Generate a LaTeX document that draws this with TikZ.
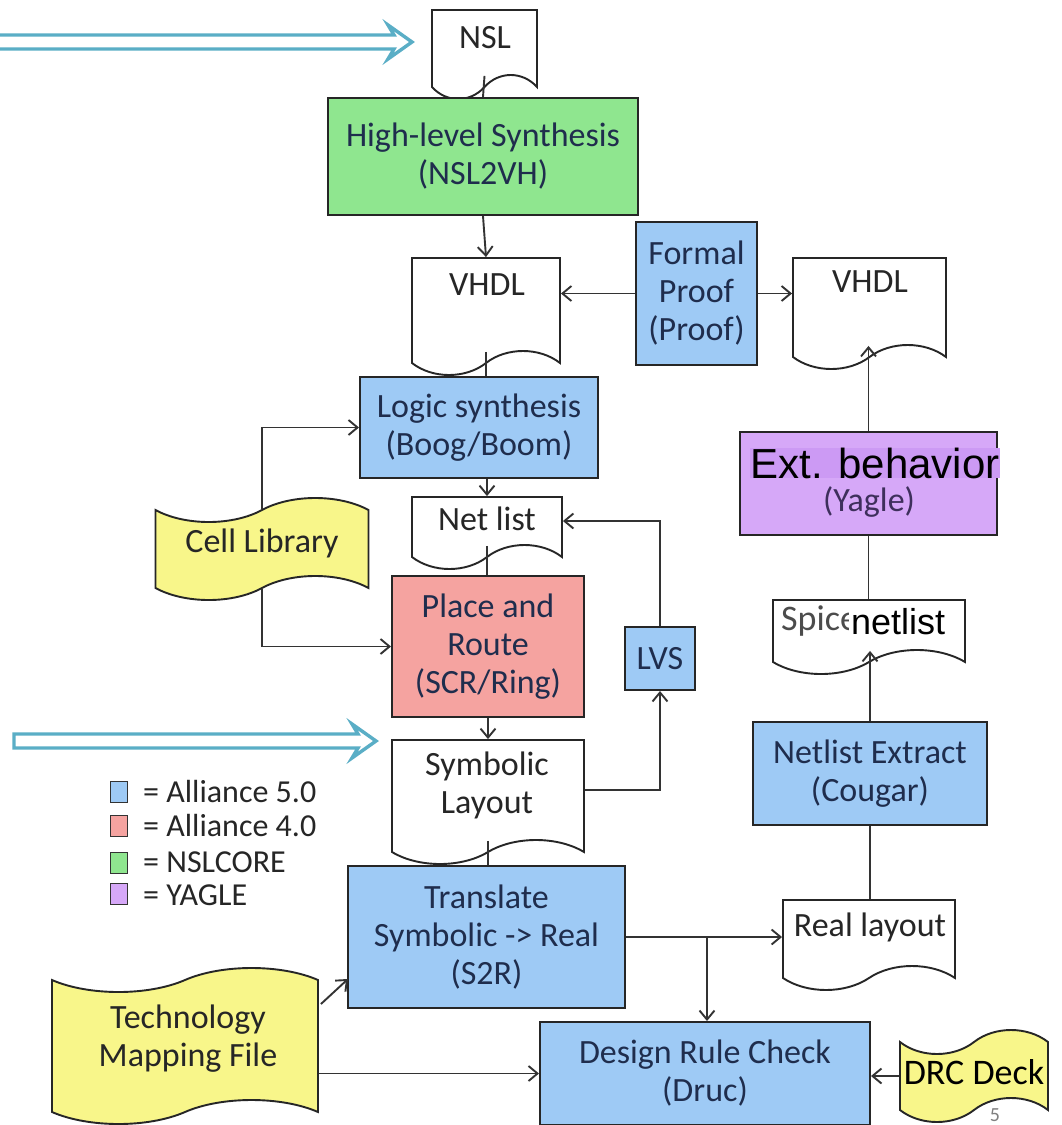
\documentclass[tikz,border=0pt]{standalone}
\usepackage{fontspec}
\setmainfont{Carlito}
\newfontfamily\arialfont{Liberation Sans}
\usetikzlibrary{shapes.symbols,arrows.meta,calc}
\definecolor{cblue}{HTML}{9ECAF5}
\definecolor{cgreen}{HTML}{8FE68F}
\definecolor{cred}{HTML}{F5A3A0}
\definecolor{cpurple}{HTML}{D6A8F8}
\definecolor{cpurpleD}{HTML}{CC9AF4}
\definecolor{cyellow}{HTML}{F8F68A}
\definecolor{cteal}{HTML}{5AAEC6}
\definecolor{txtnavy}{HTML}{1F2D4D}
\definecolor{txtdoc}{HTML}{262626}
\definecolor{txtyagle}{HTML}{3E2F5C}
\newcommand\bxf{\fontsize{34}{38}\selectfont}
\begin{document}
\begin{tikzpicture}[x=1pt,y=-1pt,
  box/.style={draw=black!85, line width=2pt, align=center, text=txtnavy, font=\bxf, inner sep=0pt},
  doc/.style={tape, draw=black!85, line width=1.9pt, fill=white, tape bend top=none, tape bend height=24pt, inner sep=0pt},
  flag/.style={tape, draw=black!85, line width=1.9pt, fill=cyellow, tape bend height=24pt, inner sep=0pt},
  lbl/.style={font=\bxf, text=txtdoc, align=center, inner sep=0pt},
  conn/.style={line width=1.9pt, draw=black!80},
  arr/.style={conn, -{Straight Barb[length=9pt,width=15pt,line width=1.9pt]}},
  tealarrow/.style={draw=cteal, line width=3.4pt, fill=white, line join=miter},
  legsq/.style={draw=black!80, line width=1.7pt, minimum width=17pt, minimum height=21pt, inner sep=0pt},
  legtx/.style={font=\fontsize{32}{34}\selectfont, text=black!85, anchor=west, inner sep=0pt, text height=21pt, text depth=0pt}
]
\clip (0,0) rectangle (1061,1125);
\fill[white] (0,0) rectangle (1061,1125);

% teal arrows
\draw[tealarrow] (-10,35) -- (394,35) -- (388,25) -- (412,42) -- (388,59) -- (394,49) -- (-10,49) -- cycle;
\draw[tealarrow] (14,734) -- (358,734) -- (352,724) -- (376,741) -- (352,758) -- (358,748) -- (14,748) -- cycle;

% documents
\node[doc, minimum width=105pt, minimum height=89pt] (nsl) at (484.5,42.5) {};
\node[lbl] (nslT) at (485,38) {NSL};
\node[doc, minimum width=148pt, minimum height=117pt] (vhdlL) at (486,304.5) {};
\node[lbl] (vhdlLT) at (487,285) {VHDL};
\node[doc, minimum width=153pt, minimum height=111pt] (vhdlR) at (869.5,301.5) {};
\node[lbl] (vhdlRT) at (870,282) {VHDL};
\node[doc, minimum width=150pt, minimum height=72pt] (netl) at (487,521) {};
\node[lbl] (netlT) at (487,519) {Net list};
\node[doc, minimum width=192pt, minimum height=124pt] (sym) at (488,790) {};
\node[lbl] (symT) at (487,785) {Symbolic\\Layout};
\node[doc, minimum width=192pt, minimum height=74pt] (spice) at (869,625) {};
\node[lbl, anchor=west, text=black!70, font=\fontsize{36}{38}\selectfont] (spiceT) at (781,621) {Spice};
\node[anchor=west, fill=white, inner xsep=2pt, inner ysep=1pt, font=\arialfont\fontsize{36}{36}\selectfont, text=black] (spiceN) at (849,622) {netlist};
\node[doc, minimum width=172pt, minimum height=90pt] (real) at (869,933) {};
\node[lbl] (realT) at (870,927) {Real layout};

% boxes
\node[box, fill=cgreen, minimum width=310pt, minimum height=117pt] (hls) at (483,156.5) {High-level Synthesis\\(NSL2VH)};
\node[box, fill=cblue, minimum width=121pt, minimum height=143pt] (formal) at (696.5,293.5) {Formal\\Proof\\(Proof)};
\node[box, fill=cblue, minimum width=238pt, minimum height=101pt] (logic) at (479,427.5) {Logic synthesis\\(Boog/Boom)};
\node[box, fill=cred, minimum width=192pt, minimum height=141pt] (pr) at (488,646.5) {Place and\\Route\\(SCR/Ring)};
\node[box, fill=cblue, minimum width=70pt, minimum height=63pt] (lvs) at (660,658.5) {LVS};
\node[box, fill=cpurple, minimum width=257pt, minimum height=103pt] (ext) at (868.5,483.5) {};
\node[fill=cpurpleD, inner sep=0pt, font=\arialfont\fontsize{42}{42}\selectfont, text=black] (extT) at (875,463) {Ext. behavior};
\node[font=\bxf, text=txtyagle, inner sep=0pt] (extY) at (869,502) {(Yagle)};
\node[box, fill=cblue, minimum width=234pt, minimum height=103pt] (nx) at (870,773.5) {Netlist Extract\\(Cougar)};
\node[box, fill=cblue, minimum width=277pt, minimum height=142pt] (trans) at (486.5,937) {Translate\\Symbolic -> Real\\(S2R)};
\node[box, fill=cblue, minimum width=330pt, minimum height=103pt] (drc) at (705,1073.5) {Design Rule Check\\(Druc)};

% flags
\node[flag, minimum width=213pt, minimum height=102pt] (cell) at (262,549) {};
\node[lbl] (cellT) at (262,543) {Cell Library};
\node[flag, minimum width=266pt, minimum height=156pt] (tech) at (185,1046) {};
\node[lbl] (techT) at (188,1039) {Technology\\Mapping File};
\node[flag, minimum width=148pt, minimum height=92pt] (deck) at (974,1076) {};
\node[lbl, text=black, font=\fontsize{36}{38}\selectfont] (deckT) at (974,1072) {DRC Deck};

% legend
\node[legsq, fill=cblue] (lg1) at (119,792) {};
\node[legtx] (lg1T) at (143,792) {= Alliance 5.0};
\node[legsq, fill=cred] (lg2) at (119,826) {};
\node[legtx] (lg2T) at (143,826) {= Alliance 4.0};
\node[legsq, fill=cgreen] (lg3) at (119,863) {};
\node[legtx] (lg3T) at (143,862) {= NSLCORE};
\node[legsq, fill=cpurple] (lg4) at (119,894) {};
\node[legtx] (lg4T) at (143,895) {= YAGLE};

% page number
\node[font=\fontsize{20}{20}\selectfont, text=black!50, anchor=base] (pg) at (995,1121) {5};

% connectors
\draw[conn] (nsl.south) -- (hls.north);
\draw[arr] (hls.south) -- (vhdlL.north);
\draw[arr] (formal.west) -- (formal.west -| vhdlL.east);
\draw[arr] (formal.east) -- (formal.east -| vhdlR.west);
\draw[conn] (vhdlL.south) -- (logic.north -| vhdlL.south);
\draw[arr] (logic.south -| netl.north) -- (netl.north);
\draw[conn] (netl.south) -- (pr.north -| netl.south);
\draw[arr] (pr.south -| sym.north) -- (sym.north);
\draw[conn] (sym.south) -- (trans.north -| sym.south);
\draw[arr] (sym.east) -| (lvs.south);
\draw[arr] (lvs.north) |- (netl.east);
\draw[arr] (cell.north) |- (logic.west);
\draw[arr] (cell.south) |- (pr.west);
\draw[arr] (ext.north) -- (ext.north |- vhdlR.south);
\draw[conn] (ext.south) -- (ext.south |- spice.north);
\draw[arr] (nx.north) -- (nx.north |- spice.south);
\draw[conn] (real.north -| nx.south) -- (nx.south);
\coordinate (trE) at (trans.east);
\coordinate (br) at (707,937);
\draw[arr] (trE) -- (trE -| real.west);
\draw[arr] (br) -- (br |- drc.north);
\coordinate (techTR) at ($(tech.east)+(2,-42)$);
\coordinate (transBL) at ($(trans.south west)+(1,-30)$);
\draw[arr] (techTR) -- (transBL);
\draw[arr] (tech.east |- drc.west) -- (drc.west);
\draw[arr] (deck.west) -- (deck.west -| drc.east);
\end{tikzpicture}
\end{document}
